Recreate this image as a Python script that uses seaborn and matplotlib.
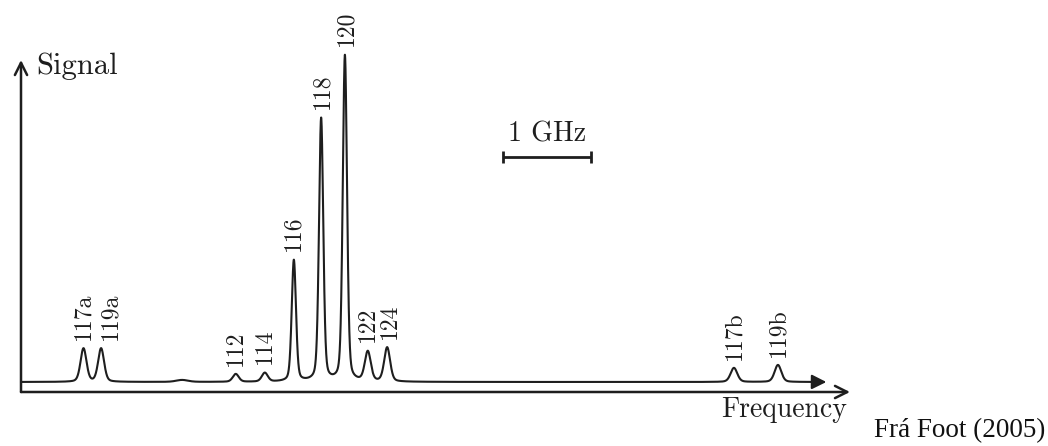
import numpy as np
import pandas as pd
import matplotlib
matplotlib.use('Agg')
import matplotlib.pyplot as plt
import seaborn as sns

# Peaks of the tin spectrum, frequency relative to the 120 line (GHz)
labels = ['117a', '119a', '', '112', '114', '116', '118', '120', '122', '124', '117b', '119b']
freq_ghz = [-2.97, -2.77, -1.85, -1.24, -0.91, -0.58, -0.27, 0.0, 0.26, 0.48, 4.42, 4.92]
amplitude = [0.102, 0.102, 0.006, 0.024, 0.027, 0.370, 0.802, 0.994, 0.090, 0.104, 0.043, 0.052]
fwhm_ghz = [0.080, 0.080, 0.160, 0.080, 0.080, 0.057, 0.057, 0.057, 0.080, 0.080, 0.090, 0.090]
label_dx = [0, 7, 0, 0, 0, 0, 1, 1, 0, 2, 0, 0]  # nudges in points

scan_start, scan_end = -3.68, 5.30
lorentz_frac = 0.3  # pseudo-Voigt mixing

peaks = pd.DataFrame({'label': labels, 'freq': freq_ghz,
                      'amp': amplitude, 'fwhm': fwhm_ghz, 'dx': label_dx})


def spectrum(x):
    y = np.zeros_like(x, dtype=float)
    for _, p in peaks.iterrows():
        g = p['fwhm'] / 2
        sigma = p['fwhm'] / 2.3548
        lor = g ** 2 / ((x - p['freq']) ** 2 + g ** 2)
        gau = np.exp(-(x - p['freq']) ** 2 / (2 * sigma ** 2))
        y += p['amp'] * (lorentz_frac * lor + (1 - lorentz_frac) * gau)
    return y


x = np.linspace(scan_start, scan_end, 8000)
sig = pd.DataFrame({'freq': x, 'signal': spectrum(x)})

sns.set_theme(style='white')
plt.rcParams['font.family'] = ['cmr10', 'DejaVu Serif']
plt.rcParams['axes.unicode_minus'] = False
plt.rcParams['mathtext.fontset'] = 'cm'

W, H = 1048, 446
fig = plt.figure(figsize=(W / 100, H / 100), dpi=100)
# axes box in pixels: left 21, right 850, top 60, bottom 392
ax = fig.add_axes([21 / W, (H - 392) / H, (850 - 21) / W, (392 - 60) / H])
ax.set_xlim(scan_start, (850 - 345) / 88)
ax.set_ylim(-10 / 328, 322 / 328)
ax.axis('off')

ink = '#1e1e1e'
sns.lineplot(data=sig, x='freq', y='signal', ax=ax, color=ink, lw=1.5)
for ln in ax.lines:
    ln.set_clip_on(False)

# filled arrow at end of the scan
ax.annotate('', xy=(5.47, 0.0), xytext=(scan_end, sig['signal'].iloc[-1]),
            arrowprops=dict(arrowstyle='-|>', color=ink, lw=1.5,
                            mutation_scale=22, shrinkA=0, shrinkB=0),
            annotation_clip=False)

# axes as open arrows
for tip in [(1, 0), (0, 1)]:
    ax.annotate('', xy=tip, xytext=(0, 0), xycoords='axes fraction',
                arrowprops=dict(arrowstyle='->', color=ink, lw=1.8,
                                mutation_scale=22, shrinkA=0, shrinkB=0),
                annotation_clip=False)

# peak labels
for _, p in peaks.iterrows():
    if not p['label']:
        continue
    top = spectrum(np.array([p['freq']]))[0]
    ax.annotate(p['label'], xy=(p['freq'], top), xytext=(p['dx'], 6),
                textcoords='offset points', rotation=90,
                ha='center', va='bottom', fontsize=17, color=ink,
                annotation_clip=False)

# 1 GHz scale bar
bar_center, bar_y = 2.295, 0.686
ax.errorbar([bar_center], [bar_y], xerr=0.5, color=ink, lw=2,
            capsize=4, capthick=2)
ax.text(bar_center, bar_y + 0.03, '1 GHz', ha='center', va='bottom',
        fontsize=20, color=ink)

fig.text(36 / W, 1 - 66 / H, 'Signal', ha='left', va='center',
         fontsize=22, color=ink)
fig.text(847 / W, 1 - 410 / H, 'Frequency', ha='right', va='center',
         fontsize=20, color=ink)
fig.text(1045 / W, 1 - 431 / H, 'Frá Foot (2005)', ha='right', va='center',
         fontsize=19.5, color='#111111', family='Liberation Serif')

fig.savefig('out.png', dpi=100)
